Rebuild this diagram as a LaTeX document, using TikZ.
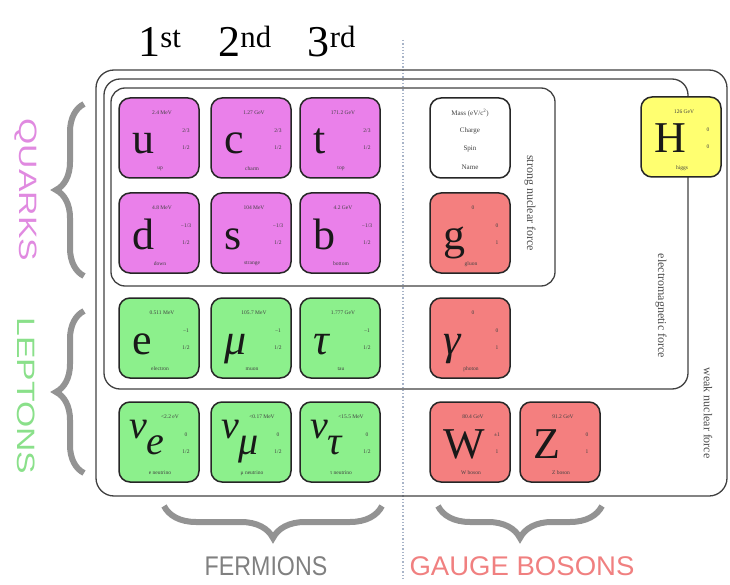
\documentclass[tikz,border=0pt]{standalone}
\usepackage{fontspec}
\usepackage{graphicx}
\setmainfont{Liberation Serif}
\newfontfamily\labelsans{Liberation Sans}
\usetikzlibrary{decorations.pathreplacing}
\definecolor{qfill}{HTML}{EA80EA}
\definecolor{lfill}{HTML}{8CF08C}
\definecolor{bfill}{HTML}{F47F7F}
\definecolor{hfill}{HTML}{FFFF70}
\definecolor{qtext}{HTML}{E08AE0}
\definecolor{ltext}{HTML}{8AE08A}
\definecolor{btext}{HTML}{F08080}
\definecolor{dotc}{HTML}{A8B4C8}
\tikzset{
 pbox/.style={draw=black!85, line width=1.5pt, rounded corners=11pt, minimum width=80pt, minimum height=80pt, inner sep=0pt},
 sym/.style={anchor=base west, inner sep=0pt, font=\fontsize{44}{44}\selectfont, text=black!90},
 tinytxt/.style={inner sep=0pt, font=\fontsize{5.5}{6}\selectfont, text=black!75},
 labtxt/.style={inner sep=0pt, font=\fontsize{7}{8}\selectfont, text=black!75},
 force/.style={rotate=-90, inner sep=0pt, font=\fontsize{12}{12}\selectfont, text=black!70},
 region/.style={draw=black!75, line width=1.3pt},
 gen/.style={anchor=base, inner sep=0pt, font=\fontsize{44}{44}\selectfont},
 bigbrace/.style={decorate, decoration={brace, amplitude=#1}, draw=gray!85, line width=6pt},
 grouptxt/.style={inner sep=0pt, font=\labelsans\fontsize{27}{27}\selectfont},
}
\newcommand\nusym[1]{\hspace*{-3pt}{\fontsize{40}{40}\selectfont\raisebox{20pt}{\textit{ν}}\raisebox{4pt}{\textit{#1}}}}
% name, x, y, fill, symbol, mass, charge, spin, particle name
\newcommand\particle[9]{%
 \node[pbox, fill=#4] (#1) at (#2,#3) {};
 \node[sym] (#1-sym) at ([shift={(-27,16)}]#1.center) {#5};
 \node[tinytxt] (#1-m) at ([shift={(3,-25)}]#1.center) {#6};
 \node[tinytxt] (#1-q) at ([shift={(27,-7)}]#1.center) {#7};
 \node[tinytxt] (#1-sp) at ([shift={(27,10)}]#1.center) {#8};
 \node[tinytxt] (#1-n) at ([shift={(1,31)}]#1.center) {#9};
}
\begin{document}
\begin{tikzpicture}[x=1pt,y=-1pt]
\useasboundingbox (0,0) rectangle (730,585);
% dotted separator
\coordinate (dtop) at (403,40);
\coordinate (dbot) at (403,580);
\draw[dotted, line width=1.3pt, dotc] (dtop) -- (dbot);
% interaction regions
\draw[region, rounded corners=18pt] (96,70) rectangle (727,496);
\draw[region, rounded corners=16pt] (104,79) rectangle (688,389);
\draw[region, rounded corners=14pt] (111,88) rectangle (555,286);
% generation labels
\node[gen] (g1) at (160,57) {1\textsuperscript{st}};
\node[gen] (g2) at (245,57) {2\textsuperscript{nd}};
\node[gen] (g3) at (332,57) {3\textsuperscript{rd}};
% particles
\particle{u}{159}{138}{qfill}{u}{2.4 MeV}{2/3}{1/2}{up}
\particle{c}{251}{138}{qfill}{c}{1.27 GeV}{2/3}{1/2}{charm}
\particle{t}{340}{138}{qfill}{t}{171.2 GeV}{2/3}{1/2}{top}
\particle{d}{159}{233}{qfill}{d}{4.8 MeV}{−1/3}{1/2}{down}
\particle{s}{251}{233}{qfill}{s}{104 MeV}{−1/3}{1/2}{strange}
\particle{b}{340}{233}{qfill}{b}{4.2 GeV}{−1/3}{1/2}{bottom}
\particle{e}{159}{338}{lfill}{e}{0.511 MeV}{−1}{1/2}{electron}
\particle{mu}{251}{338}{lfill}{\textit{μ}}{105.7 MeV}{−1}{1/2}{muon}
\particle{tau}{340}{338}{lfill}{\textit{τ}}{1.777 GeV}{−1}{1/2}{tau}
\particle{ne}{159}{442}{lfill}{\nusym{e}}{\hspace*{16pt}<2.2 eV}{0}{1/2}{e neutrino}
\particle{nm}{251}{442}{lfill}{\nusym{μ}}{\hspace*{16pt}<0.17 MeV}{0}{1/2}{μ neutrino}
\particle{nt}{340}{442}{lfill}{\nusym{τ}}{\hspace*{16pt}<15.5 MeV}{0}{1/2}{τ neutrino}
\particle{g}{470}{233}{bfill}{g}{0}{0}{1}{gluon}
\particle{ga}{470}{338}{bfill}{\textit{γ}}{0}{0}{1}{photon}
\particle{W}{470}{442}{bfill}{W}{80.4 GeV}{±1}{1}{W boson}
\particle{Z}{560}{442}{bfill}{Z}{91.2 GeV}{0}{1}{Z boson}
\particle{H}{681}{137}{hfill}{H}{126 GeV}{0}{0}{higgs}
% legend box
\node[pbox, fill=white] (lab) at (470,138) {};
\node[labtxt] (lab-m) at ([shift={(0,-25)}]lab.center) {Mass (eV/c\textsuperscript{2})};
\node[labtxt] (lab-q) at ([shift={(0,-7)}]lab.center) {Charge};
\node[labtxt] (lab-s) at ([shift={(0,11)}]lab.center) {Spin};
\node[labtxt] (lab-n) at ([shift={(0,29)}]lab.center) {Name};
% force labels
\node[force] (fs) at (530,203) {strong nuclear force};
\node[force] (fe) at (661,306) {electromagnetic force};
\node[force] (fw) at (708,413) {weak nuclear force};
% group braces
\coordinate (qb1) at (84,276); \coordinate (qb2) at (84,104);
\coordinate (lb1) at (84,473); \coordinate (lb2) at (84,311);
\coordinate (fb1) at (382,506); \coordinate (fb2) at (164,506);
\coordinate (bb1) at (602,506); \coordinate (bb2) at (438,506);
\draw[bigbrace=28pt] (qb1) -- (qb2);
\draw[bigbrace=28pt] (lb1) -- (lb2);
\draw[bigbrace=32pt] (fb1) -- (fb2);
\draw[bigbrace=32pt] (bb1) -- (bb2);
\node[grouptxt, rotate=-90, text=qtext] (quarks) at (26,190) {\scalebox{1.25}[0.93]{QUARKS}};
\node[grouptxt, rotate=-90, text=ltext] (leptons) at (26,396) {\scalebox{1.25}[0.93]{LEPTONS}};
\node[grouptxt, text=gray] (fermions) at (266,566) {\scalebox{0.86}[1]{FERMIONS}};
\node[grouptxt, text=btext] (bosons) at (522,566) {\scalebox{1.02}[1]{GAUGE BOSONS}};
\end{tikzpicture}
\end{document}
